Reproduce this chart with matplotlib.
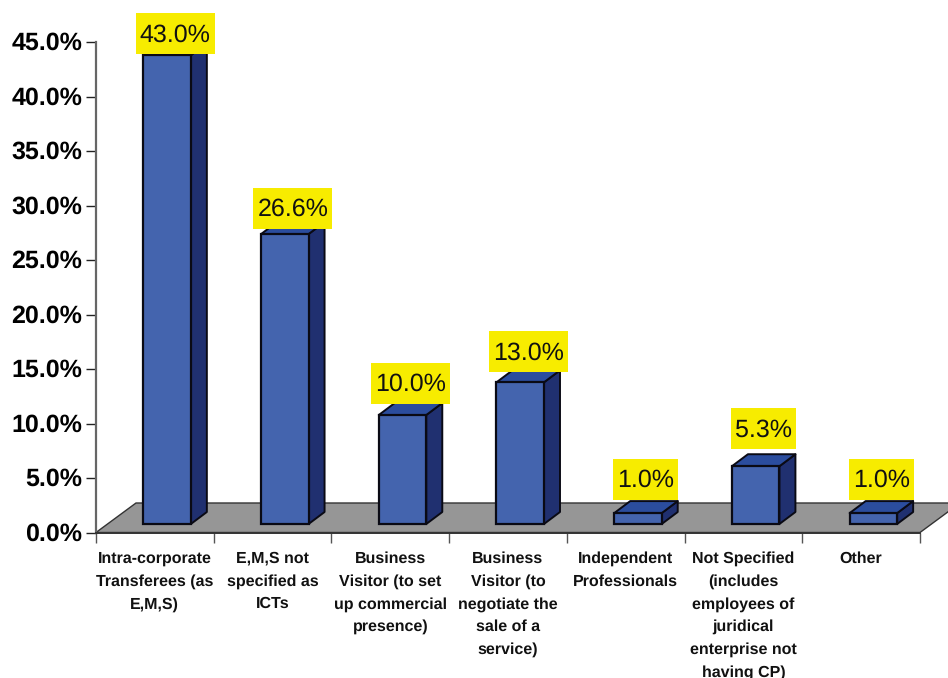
import matplotlib
matplotlib.use("Agg")
import matplotlib.pyplot as plt
from matplotlib.patches import Polygon, Rectangle
from matplotlib.transforms import ScaledTranslation
import numpy as np

plt.rcParams['font.family'] = ['Liberation Sans', 'DejaVu Sans']
plt.rcParams['text.hinting'] = 'no_hinting'
plt.rcParams['text.hinting_factor'] = 1

categories = [
    "Intra-corporate\nTransferees (as\nE,M,S)",
    "E,M,S not\nspecified as\nICTs",
    "Business\nVisitor (to set\nup commercial\npresence)",
    "Business\nVisitor (to\nnegotiate the\nsale of a\nservice)",
    "Independent\nProfessionals",
    "Not Specified\n(includes\nemployees of\njuridical\nenterprise not\nhaving CP)",
    "Other",
]
values = [43.0, 26.6, 10.0, 13.0, 1.0, 5.3, 1.0]
value_labels = ["43.0%", "26.6%", "10.0%", "13.0%", "1.0%", "5.3%", "1.0%"]
y_ticks = [0, 5, 10, 15, 20, 25, 30, 35, 40, 45]

W, H = 948, 678
fig = plt.figure(figsize=(W / 100, H / 100), dpi=100)
L, R, B, T = 96.0, 920.0, 532.5, 42.0
ax = fig.add_axes([L / W, 1 - B / H, (R - L) / W, (B - T) / H])
ax.set_xlim(0, 7)
ax.set_ylim(0, 45)
px_x = (R - L) / 7
px_y = (B - T) / 45

FRONT, SIDE, TOP, FLOOR = "#4464AE", "#203070", "#2B4D9E", "#969696"
EDGE = "#0A0A14"
BOX = "#F7EC00"

# floor
fdx, fdy = 40 / px_x, 29.5 / px_y
ax.add_patch(Polygon([(0, 0), (fdx, fdy), (7 + fdx, fdy), (7, 0)], closed=True,
                     facecolor=FLOOR, edgecolor="#333333", lw=1.0,
                     clip_on=False, zorder=1))

# bars
base = 8.5 / px_y
dx, dy = 16 / px_x, 12 / px_y
width = 47.5 / px_x
xpos = np.arange(7) + 0.604
ax.bar(xpos, values, width=width, bottom=base, color=FRONT, edgecolor=EDGE,
       linewidth=1.6, zorder=3, clip_on=False)
for x, v in zip(xpos, values):
    x0, x1 = x - width / 2, x + width / 2
    y0, y1 = base, base + v
    ax.add_patch(Polygon([(x1, y0), (x1 + dx, y0 + dy), (x1 + dx, y1 + dy), (x1, y1)],
                         closed=True, facecolor=SIDE, edgecolor=EDGE, lw=1.4,
                         clip_on=False, zorder=2.5, joinstyle="round"))
    ax.add_patch(Polygon([(x0, y1), (x0 + dx, y1 + dy), (x1 + dx, y1 + dy), (x1, y1)],
                         closed=True, facecolor=TOP, edgecolor=EDGE, lw=1.4,
                         clip_on=False, zorder=2.5, joinstyle="round"))

# value labels with yellow boxes (shift in pixels, from the bar's back top edge)
box_shift = [11, 7, 1, 2, -1, -5, -1]
for x, v, s, sh in zip(xpos, values, value_labels, box_shift):
    cx = L + x * px_x + 8
    bottom_px = B - (base + v + dy) * px_y + sh
    t = fig.text(cx / W, 1 - (bottom_px - 22) / H, s, fontsize=17.9, color="#111111",
                 ha="center", va="center_baseline", zorder=6)
    r = fig.canvas.get_renderer()
    ext = t.get_window_extent(r)
    bw = ext.width + 8
    fig.add_artist(Rectangle(((cx - bw / 2) / W, 1 - bottom_px / H), bw / W, 41 / H,
                             transform=fig.transFigure, facecolor=BOX, edgecolor="none",
                             zorder=5))

# axes
for s in ("top", "right"):
    ax.spines[s].set_visible(False)
ax.spines["left"].set_color("#666666")
ax.spines["left"].set_linewidth(1.6)
ax.spines["bottom"].set_color("#333333")
ax.spines["bottom"].set_linewidth(1.4)
ax.spines["left"].set_zorder(2)
ax.spines["bottom"].set_zorder(2)

ax.set_yticks(y_ticks)
ax.set_yticklabels([f"{t:.1f}%" for t in y_ticks], fontsize=17.7, fontweight="bold", color="black")
ax.tick_params(axis="y", length=7.5, width=1.0, color="#222222", pad=2.3)
up = ScaledTranslation(0, 0.8 / 72, fig.dpi_scale_trans)
for lab in ax.get_yticklabels():
    lab.set_transform(lab.get_transform() + up)

ax.set_xticks(np.arange(8))
ax.set_xticklabels([])
ax.tick_params(axis="x", which="major", length=7.5, width=1.0, color="#555555")
ax.set_xticks(np.arange(7) + 0.5, minor=True)
ax.set_xticklabels(categories, minor=True, fontsize=11.2, fontweight="bold",
                   linespacing=1.67, color="#111111", ha="center", va="top")
ax.tick_params(axis="x", which="minor", length=0, pad=13.5)

fig.savefig("out.png", dpi=100)
